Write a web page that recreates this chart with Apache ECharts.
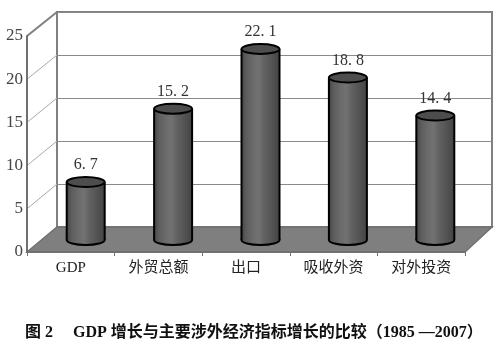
<!DOCTYPE html>
<html>
<head>
<meta charset="utf-8">
<script src="https://cdn.jsdelivr.net/npm/echarts@6/dist/echarts.min.js"></script>
<style>
  html, body { margin: 0; padding: 0; background: #fff; }
  #main { width: 500px; height: 351px; }
</style>
</head>
<body>
<div id="main"></div>
<script>
var categories = ['GDP', '外贸总额', '出口', '吸收外资', '对外投资'];
var growth = [6.7, 15.2, 22.1, 18.8, 14.4];
var yTicks = [0, 5, 10, 15, 20, 25];
var caption = '图 2　 GDP 增长与主要涉外经济指标增长的比较（1985 —2007）';

// pseudo 3d frame: front plane, back wall, and the middle plane the bars stand on
var front = { left: 27, top: 36, width: 438, height: 216 };
var back = { left: 57, top: 12, width: 435, height: 215 };
var mid = { left: 42, top: 24, width: 437, height: 216 };

var serif = '"Liberation Serif", "DejaVu Serif", serif';
var cjk = '"Liberation Serif", "Noto Sans CJK SC", serif';

var bodyFill = new echarts.graphic.LinearGradient(0, 0, 1, 0, [
  { offset: 0, color: '#454545' },
  { offset: 0.12, color: '#5c5c5c' },
  { offset: 0.3, color: '#6a6a6a' },
  { offset: 0.45, color: '#727272' },
  { offset: 0.6, color: '#626262' },
  { offset: 0.8, color: '#535353' },
  { offset: 1, color: '#434343' }
]);

var chart = echarts.init(document.getElementById('main'));

function yOf(g, v) { return g.top + g.height - v / 25 * g.height; }

var wallLines = yTicks.filter(function (t) { return t > 0; }).map(function (t) {
  return {
    type: 'line',
    z: 1,
    shape: { x1: front.left, y1: yOf(front, t), x2: back.left, y2: yOf(back, t) },
    style: { stroke: t === 25 ? '#808080' : '#a8a8a8', lineWidth: t === 25 ? 2 : 1 }
  };
});

chart.setOption({
  animation: false,
  title: {
    text: caption,
    left: 20,
    top: 320,
    textStyle: { fontSize: 16, fontWeight: 'bold', color: '#111', fontFamily: cjk }
  },
  grid: [
    front,
    Object.assign({ show: true, backgroundColor: '#fff', borderColor: '#808080', borderWidth: 2 }, back),
    mid
  ],
  xAxis: [
    {
      gridIndex: 0, type: 'category', data: categories, z: 3,
      axisLine: { lineStyle: { color: '#707070', width: 2 } },
      axisTick: { show: true, length: 4, lineStyle: { color: '#707070' } },
      axisLabel: { margin: 9, fontSize: 15, color: '#222', fontFamily: cjk }
    },
    { gridIndex: 1, type: 'category', data: categories, show: false },
    { gridIndex: 2, type: 'category', data: categories, show: false }
  ],
  yAxis: [
    {
      gridIndex: 0, type: 'value', min: 0, max: 25, interval: 5, z: 3,
      axisLine: { show: true, lineStyle: { color: '#707070', width: 2 } },
      axisTick: { show: false },
      splitLine: { show: false },
      axisLabel: { margin: 4, fontSize: 17, color: '#444', fontFamily: serif }
    },
    {
      gridIndex: 1, type: 'value', min: 0, max: 25, interval: 5,
      axisLine: { show: false }, axisTick: { show: false }, axisLabel: { show: false },
      splitLine: { lineStyle: { color: '#8a8a8a', width: 1 } }
    },
    { gridIndex: 2, type: 'value', min: 0, max: 25, show: false }
  ],
  graphic: wallLines.concat([
    {
      type: 'polygon',
      z: 1,
      shape: {
        points: [
          [front.left, front.top + front.height],
          [back.left, back.top + back.height],
          [back.left + back.width, back.top + back.height],
          [front.left + front.width, front.top + front.height]
        ]
      },
      style: { fill: '#7f7f7f', stroke: '#707070', lineWidth: 1.5 }
    }
  ]),
  series: [{
    type: 'custom',
    xAxisIndex: 2,
    yAxisIndex: 2,
    z: 5,
    data: growth.map(function (v, i) { return [i, v]; }),
    encode: { x: 0, y: 1 },
    renderItem: function (params, api) {
      var top = api.coord([api.value(0), api.value(1)]);
      var base = api.coord([api.value(0), 0]);
      var w = 38, rx = w / 2, ry = 5;
      var x0 = top[0] - rx;
      var line = { stroke: '#000', lineWidth: 2 };
      return {
        type: 'group',
        children: [
          { type: 'ellipse', shape: { cx: top[0], cy: base[1], rx: rx, ry: ry },
            style: { fill: bodyFill, stroke: '#000', lineWidth: 2 } },
          { type: 'rect', shape: { x: x0, y: top[1], width: w, height: base[1] - top[1] },
            style: { fill: bodyFill } },
          { type: 'line', shape: { x1: x0, y1: top[1], x2: x0, y2: base[1] }, style: line },
          { type: 'line', shape: { x1: x0 + w, y1: top[1], x2: x0 + w, y2: base[1] }, style: line },
          { type: 'ellipse', shape: { cx: top[0], cy: top[1], rx: rx, ry: ry },
            style: { fill: '#4d4d4d', stroke: '#000', lineWidth: 2 } },
          { type: 'text', style: {
              text: api.value(1).toFixed(1).replace('.', '. '), x: top[0], y: top[1] - ry - 4,
              align: 'center', verticalAlign: 'bottom',
              font: '16px ' + serif, fill: '#333'
          } }
        ]
      };
    }
  }]
});
</script>
</body>
</html>
